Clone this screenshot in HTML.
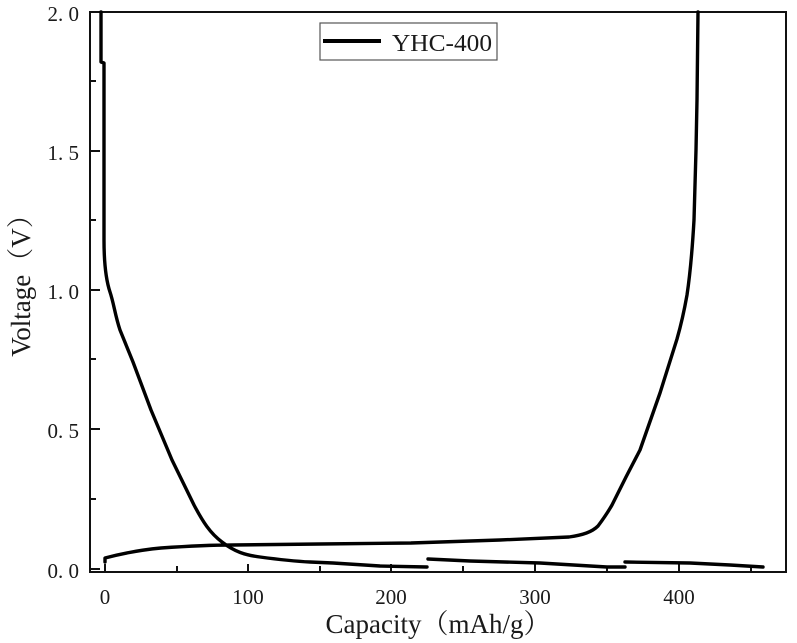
<!DOCTYPE html>
<html><head><meta charset="utf-8"><style>
html,body{margin:0;padding:0;background:#fff;}
svg{display:block;}
text{font-family:"Liberation Serif","Noto Serif CJK SC",serif;fill:#1a1a1a;}
</style></head><body>
<svg width="797" height="643" viewBox="0 0 797 643" xmlns="http://www.w3.org/2000/svg">
<rect x="0" y="0" width="797" height="643" fill="#fff"/>
<rect x="90" y="12" width="696" height="560" fill="none" stroke="#111" stroke-width="2"/>
<g stroke="#111" stroke-width="2">
<line x1="105" y1="572" x2="105" y2="564"/>
<line x1="177" y1="572" x2="177" y2="566"/>
<line x1="248" y1="572" x2="248" y2="564"/>
<line x1="320" y1="572" x2="320" y2="566"/>
<line x1="391" y1="572" x2="391" y2="564"/>
<line x1="463" y1="572" x2="463" y2="566"/>
<line x1="535" y1="572" x2="535" y2="564"/>
<line x1="607" y1="572" x2="607" y2="566"/>
<line x1="679" y1="572" x2="679" y2="564"/>
<line x1="751" y1="572" x2="751" y2="566"/>
<line x1="90" y1="569" x2="100" y2="569"/>
<line x1="90" y1="499" x2="96" y2="499"/>
<line x1="90" y1="429" x2="100" y2="429"/>
<line x1="90" y1="359" x2="96" y2="359"/>
<line x1="90" y1="290" x2="100" y2="290"/>
<line x1="90" y1="220" x2="96" y2="220"/>
<line x1="90" y1="151" x2="100" y2="151"/>
<line x1="90" y1="81" x2="96" y2="81"/>
</g>
<g font-size="21" text-anchor="end">
<text x="79" y="578">0. 0</text>
<text x="79" y="438">0. 5</text>
<text x="79" y="299">1. 0</text>
<text x="79" y="160">1. 5</text>
<text x="79" y="21">2. 0</text>
</g>
<g font-size="21" text-anchor="middle">
<text x="105" y="604">0</text>
<text x="248" y="604">100</text>
<text x="391" y="604">200</text>
<text x="535" y="604">300</text>
<text x="679" y="604">400</text>
</g>
<text x="438" y="633" font-size="27" text-anchor="middle">Capacity（mAh/g）</text>
<text transform="translate(30,279) rotate(-90)" font-size="27" text-anchor="middle">Voltage（V）</text>
<rect x="320" y="23" width="177" height="37" fill="#fff" stroke="#555" stroke-width="1.2"/>
<line x1="323" y1="41" x2="381" y2="41" stroke="#000" stroke-width="4"/>
<text x="392" y="51" font-size="24" textLength="100" lengthAdjust="spacingAndGlyphs">YHC-400</text>
<g fill="none" stroke="#000" stroke-width="3.4" stroke-linejoin="round" stroke-linecap="round">
<path d="M101,12 L101,62 L104,63 L104,240 C104,265 106,280 110,292 S115,315 120,330 L133,362 L151,410 L172,460 L194,505 C203,522 210,533 222,542 C235,552 245,555 260,557 C275,559 290,561 310,562 L333,563 L380,566 L427,567"/>
<path d="M428,559 L470,561 L540,563 L607,567 L625,567"/>
<path d="M625,562 L690,563 L730,565 L763,567"/>
<path d="M105,562 L105,558 C120,554 140,550 161,548 C190,546 210,545 233,545 L320,544 L411,543 L500,540 L569,537 C583,535 592,532 598,526 C604,518 608,512 612,505 L626,477 L640,450 L660,393 L677,339 C681,325 684,312 687,295 C690,275 692,255 694,220 L696,150 L697,100 L698,12"/>
</g>
</svg>
</body></html>
